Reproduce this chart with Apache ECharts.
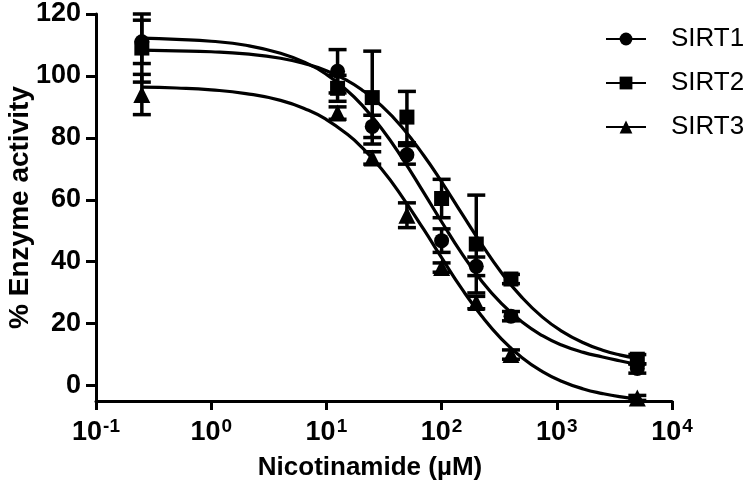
<!DOCTYPE html>
<html>
<head>
<meta charset="utf-8">
<script src="https://cdn.jsdelivr.net/npm/echarts@6/dist/echarts.min.js"></script>
<style>html,body{margin:0;padding:0;background:#fff;}#chart{width:750px;height:493px;}</style>
</head>
<body>
<div id="chart"></div>
<script>
// Measured data (concentration in µM, % enzyme activity, error = SD)
const concentrations = [0.25, 12.5, 25, 50, 100, 200, 400, 5000];
const sirt1Mean = [111, 101.5, 83.7, 74.5, 46.8, 38.5, 22.4, 5.5];
const sirt1Err  = [7, 7, 3.6, 3, 3.8, 3, 1.5, 1.5];
const sirt2Mean = [109, 96, 93, 86.7, 60.4, 45.7, 34.4, 8.5];
const sirt2Err  = [11, 4.2, 15, 8.3, 6.2, 15.8, 1.5, 1.5];
const sirt3Mean = [94, 88, 73.5, 55, 38.1, 26.8, 10, -4];
const sirt3Err  = [6.5, 2, 2, 4, 1.5, 2, 1.5, 0.8];

// Fitted curves
const curveX = [0.25,0.5,1,2,4,7,10,15,20,30,45,70,100,150,220,330,500,750,1100,1700,2500,3500,5000];
const curve1 = [112.2,111.8,111.2,109.9,107.3,103.8,100.5,95.4,90.9,83.1,73.7,62.3,52.9,42.6,34.0,26.5,20.5,16.1,13.1,10.7,9.2,8.0,6.8];
const curve2 = [108.3,108.1,107.8,107.1,105.7,103.6,101.7,98.6,95.7,90.4,83.6,74.3,65.8,55.5,45.9,36.5,28.4,22.1,17.6,13.8,11.4,9.9,8.8];
const curve3 = [96.4,96.1,95.5,94.3,92.1,88.9,85.9,81.3,77.2,70.0,61.2,50.4,41.3,31.2,22.7,15.1,9.0,4.5,1.4,-1.1,-2.6,-3.6,-4.3];

// Axis ticks
const xTickValues = [0.1, 1, 10, 100, 1000, 10000];
const yTickValues = [0, 20, 40, 60, 80, 100, 120];

const seriesNames = ['SIRT1', 'SIRT2', 'SIRT3'];
const symbols = ['circle', 'rect', 'triangle'];
const means = [sirt1Mean, sirt2Mean, sirt3Mean];
const errs = [sirt1Err, sirt2Err, sirt3Err];
const curves = [curve1, curve2, curve3];

const FONT = 'Liberation Sans, Arial, sans-serif';
const chart = echarts.init(document.getElementById('chart'), null, {renderer: 'canvas'});

const series = [];
for (let s = 0; s < 3; s++) {
  series.push({
    name: seriesNames[s],
    type: 'line',
    data: curveX.map((x, i) => [x, curves[s][i]]),
    smooth: true,
    showSymbol: false,
    symbol: symbols[s],
    symbolSize: 16,
    itemStyle: {color: '#000'},
    lineStyle: {color: '#000', width: 3.2},
    silent: true,
    z: 2
  });
}
for (let s = 0; s < 3; s++) {
  series.push({
    name: seriesNames[s] + ' error',
    type: 'custom',
    data: concentrations.map((x, i) => [x, means[s][i], errs[s][i]]),
    renderItem: function (params, api) {
      const x = api.value(0), m = api.value(1), e = api.value(2);
      const top = api.coord([x, m + e]);
      const bot = api.coord([x, m - e]);
      const hw = 9;
      const st = {stroke: '#000', lineWidth: 3.5};
      return {
        type: 'group',
        children: [
          {type: 'line', shape: {x1: top[0], y1: top[1], x2: bot[0], y2: bot[1]}, style: st},
          {type: 'line', shape: {x1: top[0] - hw, y1: top[1], x2: top[0] + hw, y2: top[1]}, style: st},
          {type: 'line', shape: {x1: bot[0] - hw, y1: bot[1], x2: bot[0] + hw, y2: bot[1]}, style: st}
        ]
      };
    },
    silent: true,
    z: 3
  });
}
for (let s = 0; s < 3; s++) {
  series.push({
    name: seriesNames[s] + ' points',
    type: 'scatter',
    data: concentrations.map((x, i) => [x, means[s][i]]),
    symbol: symbols[s],
    symbolSize: s === 2 ? 17 : 15,
    itemStyle: {color: '#000', opacity: 1},
    silent: true,
    z: 4
  });
}

chart.setOption({
  animation: false,
  backgroundColor: '#fff',
  grid: {left: 96, right: 78, top: 14, bottom: 92, containLabel: false, outerBoundsMode: 'none'},
  legend: {
    data: seriesNames,
    orient: 'vertical',
    left: 605,
    top: 26,
    padding: 0,
    itemWidth: 40,
    itemHeight: 16,
    itemGap: 18,
    textStyle: {fontFamily: FONT, fontSize: 26, color: '#000', padding: [0, 0, 0, 20], lineHeight: 26}
  },
  xAxis: {
    type: 'log',
    logBase: 10,
    min: 0.1,
    max: 10000,
    name: 'Nicotinamide (\u00b5M)',
    nameLocation: 'middle',
    nameGap: 54,
    nameMoveOverlap: false,
    nameTextStyle: {fontFamily: FONT, fontSize: 26, fontWeight: 'bold', color: '#000', padding: [0, 28, 0, 0]},
    axisLine: {show: true, onZero: false, lineStyle: {color: '#000', width: 3}},
    axisTick: {show: true, length: 9, lineStyle: {color: '#000', width: 3}, customValues: xTickValues},
    axisLabel: {
      customValues: xTickValues,
      margin: 16,
      formatter: function (v) {
        const e = Math.round(Math.log10(v));
        return '{b|10}{s|' + e + '}';
      },
      rich: {
        b: {fontFamily: FONT, fontSize: 27, fontWeight: 'bold', color: '#000'},
        s: {fontFamily: FONT, fontSize: 19, fontWeight: 'bold', color: '#000', verticalAlign: 'top', padding: [0, 0, 12, 1]}
      }
    },
    splitLine: {show: false}
  },
  yAxis: {
    type: 'value',
    min: -5,
    max: 120,
    name: '% Enzyme activity',
    nameLocation: 'middle',
    nameGap: 62,
    nameMoveOverlap: false,
    nameTextStyle: {fontFamily: FONT, fontSize: 28, fontWeight: 'bold', color: '#000'},
    axisLine: {show: true, lineStyle: {color: '#000', width: 3}},
    axisTick: {show: true, length: 10, lineStyle: {color: '#000', width: 3}, customValues: yTickValues},
    axisLabel: {
      customValues: yTickValues,
      margin: 15,
      fontFamily: FONT, fontSize: 27, fontWeight: 'bold', color: '#000'
    },
    splitLine: {show: false}
  },
  series: series
});
</script>
</body>
</html>
